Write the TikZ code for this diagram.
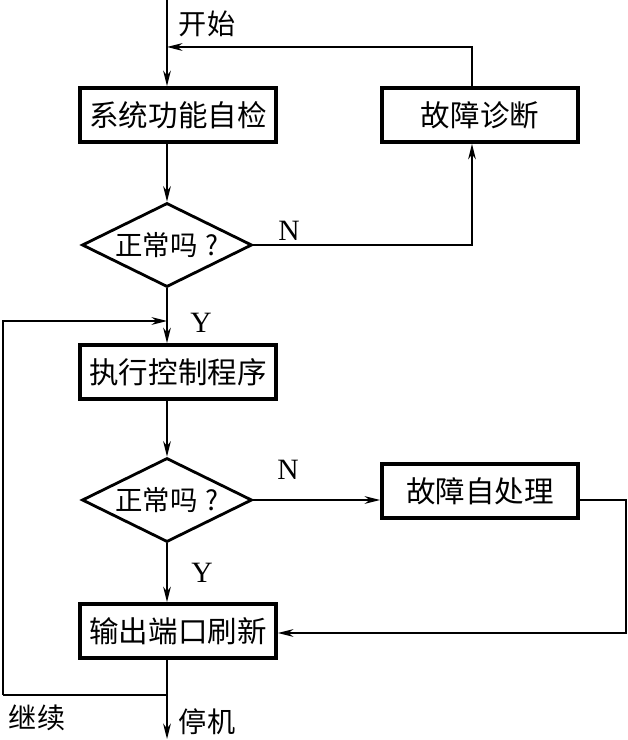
\documentclass[tikz,border=0pt]{standalone}
\usepackage{fontspec}
\setmainfont{Liberation Serif}
\newfontfamily\cjk{Noto Sans CJK SC}
\usetikzlibrary{arrows.meta,shapes.geometric}
\tikzset{
>={Stealth[length=11pt,width=5.5pt,inset=3.5pt]},
box node/.style={draw,line width=2.7pt,minimum width=4.9cm,minimum height=1.35cm,inner sep=0pt,font=\cjk\fontsize{21}{21}\selectfont},
test node/.style={diamond,draw,line width=2pt,aspect=2,minimum width=4.25cm,minimum height=2.1cm,inner sep=0pt,font=\cjk\fontsize{19.5}{19.5}\selectfont},
label node/.style={inner sep=0pt,font=\cjk\fontsize{20}{20}\selectfont},
yn node/.style={inner sep=0pt,font=\fontsize{21}{21}\selectfont},
linea/.style={line width=1.1pt},
freccia/.style={->,line width=1.1pt}}

\begin{document}
\begin{tikzpicture}[x=0.025cm,y=-0.025cm]
\useasboundingbox (0,0) rectangle (627,740);

\node[box node] (check) at (178,115) {系统功能自检};
\node[box node] (diag) at (480,115) {故障诊断};
\node[test node] (ok1) at (167,245) {正常吗\hspace{0.3em}?};
\node[box node] (run) at (178,372) {执行控制程序};
\node[test node] (ok2) at (167,500) {正常吗\hspace{0.3em}?};
\node[box node] (fix) at (480,491) {故障自处理};
\node[box node] (out) at (178,631) {输出端口刷新};

\coordinate (top) at (167,0);
\coordinate (back) at (472,47);
\coordinate (join) at (167,321);
\coordinate (split) at (167,695);
\coordinate (corner) at (3,695);
\coordinate (right) at (626,633);
\coordinate (stop) at (167,739);

\node[label node] (start) at (207,24) {开始};
\node[yn node] (n1) at (289,231) {N};
\node[yn node] (y1) at (201,323) {Y};
\node[yn node] (n2) at (288,470) {N};
\node[yn node] (y2) at (202,573) {Y};
\node[label node] (cont) at (37,718) {继续};
\node[label node] (halt) at (207,722) {停机};

\draw[freccia] (top) -- (top |- check.north);
\draw[freccia] (diag.north -| back) -- (back) -- (back -| top);
\draw[freccia] (top |- check.south) -- (ok1.north);
\draw[freccia] (ok1.east) -| (back |- diag.south);
\draw[freccia] (ok1.south) -- (ok1.south |- run.north);
\draw[freccia] (corner |- split) -- (corner |- join) -- (join);
\draw[linea] (top |- out.south) -- (split) -- (corner);
\draw[freccia] (top |- run.south) -- (ok2.north);
\draw[freccia] (ok2.east) -- (ok2.east -| fix.west);
\draw[freccia] (fix.east |- ok2.east) -| (right) -- (right -| out.east);
\draw[freccia] (ok2.south) -- (ok2.south |- out.north);
\draw[freccia] (split) -- (stop);

\end{tikzpicture}
\end{document}
